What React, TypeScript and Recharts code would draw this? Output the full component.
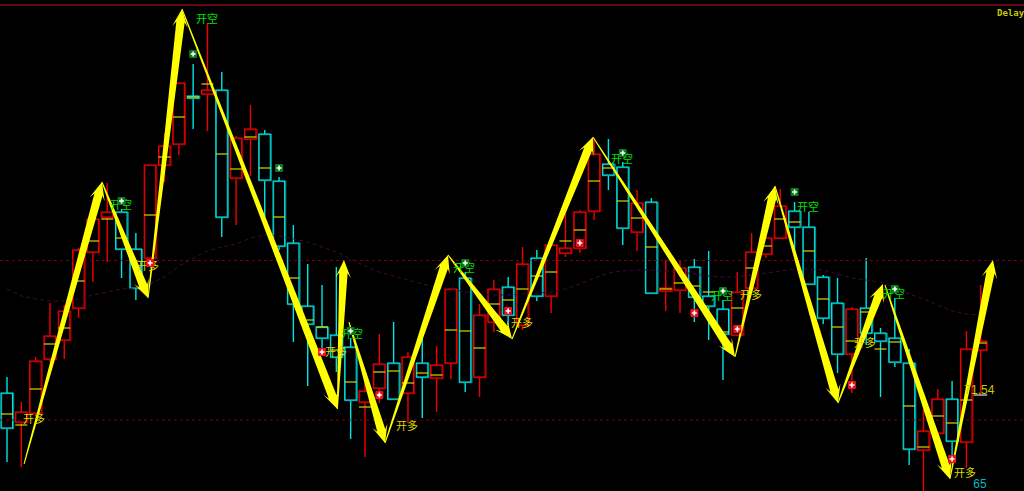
import React from 'react';
import { ComposedChart, Bar, Line, Scatter, XAxis, YAxis, ReferenceLine } from 'recharts';

const wickTop = [377,402,357,303,305,248,219,183,209,233,165,133,83,64,23,72,136,105,130,177,225,264,285,267,338,383,334,322,352,337,346,289,272,304,280,277,247,250,245,213,210,138,139,162,190,198,260,260,259,251,300,272,233,238,189,202,212,275,278,307,258,328,298,349,410,389,381,331,285];
const bodyTop = [393,412,361,336,311,250,219,212,212,249,165,146,83,96,90,90,138,129,134,181,243,306,327,335,347,391,364,363,357,363,365,289,278,315,289,287,264,258,245,248,212,154,164,167,203,202,288,268,267,296,309,292,252,238,206,211,227,277,303,309,308,333,338,363,431,399,399,349,341];
const midLine = [414,425,389,344,328,281,241,219,238,261,215,157,117,97,84,154,169,137,168,217,278,320,327,350,382,407,372,371,383,373,375,330,331,348,304,300,289,276,272,241,230,181,168,201,218,247,289,283,286,292,332,308,268,246,219,222,251,299,327,341,312,349,342,406,447,416,423,400,343];
const bodyBottom = [428,422,413,359,340,308,252,217,249,288,258,165,144,98,94,217,178,139,180,246,304,324,338,357,400,402,388,399,393,377,378,363,382,377,322,315,325,296,296,253,248,211,175,228,232,293,291,290,297,306,334,335,288,254,238,227,284,318,354,354,333,341,362,449,450,433,441,442,350];
const wickBottom = [462,467,416,362,359,318,282,262,278,300,260,182,155,129,131,237,225,176,227,250,342,386,352,372,439,457,403,400,423,418,412,379,392,397,332,325,330,301,313,257,253,220,190,245,251,293,311,313,322,340,380,335,290,258,239,255,284,324,373,393,345,397,367,465,491,440,458,468,395];
const upCandle = [0,1,1,1,1,1,1,1,0,0,1,1,1,0,1,0,1,1,0,0,0,0,0,0,0,1,1,0,1,0,1,1,0,1,1,0,1,0,1,1,1,1,0,0,1,0,1,1,0,0,0,1,1,1,1,0,0,0,0,1,0,0,0,0,1,1,0,1,1];
const maLine = [289,296,299,301,301,299,295,292,289,288,284,277,266,258,251,247,244,238,235,236,239,242,247,252,259,266,272,276,280,284,287,289,292,294,295,295,294,293,292,289,284,278,273,271,270,270,271,272,274,276,277,277,275,273,271,269,269,270,274,278,280,282,288,294,299,305,311,314,315];

const greenIdx = [8,13,19,24,32,43,50,55,62];
const greenLevel = [201,54,168,331,263,153,291,192,289];
const redIdx = [10,22,26,35,40,48,51,59,66];
const redLevel = [263,352,395,311,243,313,329,385,459];

const shortIdx = [13.97,7.96,24.09,31.91,42.95,49.93,55.94,61.94];
const shortLevel = [18,204,333,267,158,295,206,293];
const longIdx = [1.89,9.85,22.98,27.93,35.96,51.96,59.92,66.9];
const longLevel = [418,265,351,425,322,294,342,472];

const priceIdx = [67.9];
const priceLevel = [389];
const countIdx = [67.95];
const countLevel = [483.5];

const arrowFromIdx = [1.19,6.63,9.85,12.22,23.07,23.88,26.4,30.8,35.27,40.92,50.84,53.63,58.03,61.31,65.85];
const arrowFromLevel = [464,182,298,9,409,322,443,255,339,137,357,186,403,285,479];
const arrowToIdx = [6.63,9.85,12.22,23.07,23.53,26.4,30.8,35.27,40.92,50.84,53.63,58.03,61.17,65.85,68.85];
const arrowToLevel = [182,298,9,409,260,443,255,339,137,357,186,403,284,479,260];

const candles = wickTop.map((top, i) => ({
  idx: i,
  range: [top, wickBottom[i]],
  bodyTop: bodyTop[i],
  bodyBottom: bodyBottom[i],
  mid: midLine[i],
  up: upCandle[i] === 1,
  ma: maLine[i],
}));
const toPoints = (xs: number[], ys: number[]) => xs.map((idx, i) => ({ idx, level: ys[i] }));

const Candle = (props: any) => {
  const { x, y, width, height, payload } = props;
  const cx = x + width / 2;
  const [lo, hi] = payload.range;
  const top = Math.min(y, y + height);
  const scale = Math.abs(height) / (hi - lo || 1);
  const py = (v: number) => top + (v - lo) * scale;
  const bright = payload.up ? '#f00000' : '#00e6e6';
  const dark = payload.up ? '#9a0000' : '#008c8c';
  const by = py(payload.bodyTop);
  const bh = py(payload.bodyBottom) - by;
  return (
    <g>
      <line x1={cx} x2={cx} y1={top} y2={by} stroke={bright} strokeWidth={1.4} />
      <line x1={cx} x2={cx} y1={by + bh} y2={py(hi)} stroke={bright} strokeWidth={1.4} />
      <rect x={cx - 5.5} y={by + 0.5} width={12} height={bh} fill="#000" stroke={dark} strokeWidth={1.4} />
      <rect x={cx - 6} y={by} width={11.5} height={bh} fill="none" stroke={bright} strokeWidth={1} />
      <line x1={cx - 6} x2={cx + 6} y1={py(payload.mid)} y2={py(payload.mid)} stroke="#d8d800" strokeWidth={1.2} />
    </g>
  );
};

const Mark = ({ cx, cy, color }: any) => (
  <g>
    <rect x={cx - 4} y={cy - 4} width={8} height={8} rx={1} fill={color} />
    <path d={`M${cx - 2.5} ${cy}H${cx + 2.5}M${cx} ${cy - 2.5}V${cy + 2.5}`} stroke="#fff" strokeWidth={1.6} />
  </g>
);

const Word = ({ cx, cy, color, text, fontPx = 11, font = "'Noto Sans CJK SC'" }: any) => (
  <text x={cx} y={cy + 4.5} textAnchor="middle" fontSize={fontPx} fill={color} fontFamily={font}>
    {text}
  </text>
);

// tail starts as a hair and widens up to the head
const Arrow = ({ x1, y1, x2, y2 }: any) => {
  const len = Math.hypot(x2 - x1, y2 - y1);
  const ux = (x2 - x1) / len;
  const uy = (y2 - y1) / len;
  const at = (d: number, w: number) => `${x1 + ux * d - uy * w},${y1 + uy * d + ux * w}`;
  const pts = [at(0, 0.5), at(len - 13, 4.2), at(len - 18, 7.8), at(len, 0), at(len - 18, -7.8), at(len - 13, -4.2), at(0, -0.5)];
  return <polygon points={pts.join(' ')} fill="#ffff00" />;
};

export default function App() {
  return (
    <div style={{ position: 'absolute', left: 0, top: 0, width: 1024, height: 491, background: '#000', overflow: 'hidden' }}>
      <ComposedChart width={1024} height={491} data={candles} margin={{ top: 0, right: 0, bottom: 0, left: 0 }}>
        <XAxis dataKey="idx" type="number" domain={[-0.489, 71.02]} hide allowDataOverflow />
        <YAxis type="number" domain={[0, 491]} reversed hide allowDataOverflow />
        <ReferenceLine y={5} stroke="#80101c" strokeWidth={1.5} />
        <ReferenceLine y={260.5} stroke="#7a0000" strokeDasharray="3 3" />
        <ReferenceLine y={420} stroke="#7a0000" strokeDasharray="3 3" />
        <Line dataKey="ma" stroke="#3c0a3c" strokeDasharray="4 3" dot={false} activeDot={false} isAnimationActive={false} />
        <Bar dataKey="range" barSize={12} shape={Candle} isAnimationActive={false} />
        <Scatter data={toPoints(shortIdx, shortLevel)} dataKey="level" isAnimationActive={false} shape={(p: any) => <Word {...p} color="#00e000" text="开空" />} />
        <Scatter data={toPoints(longIdx, longLevel)} dataKey="level" isAnimationActive={false} shape={(p: any) => <Word {...p} color="#d8d800" text="开多" />} />
        <Scatter data={toPoints(greenIdx, greenLevel)} dataKey="level" isAnimationActive={false} shape={(p: any) => <Mark {...p} color="#0a7a1e" />} />
        <Scatter data={toPoints(redIdx, redLevel)} dataKey="level" isAnimationActive={false} shape={(p: any) => <Mark {...p} color="#ee0f1f" />} />
        <Scatter data={toPoints(priceIdx, priceLevel)} dataKey="level" isAnimationActive={false} shape={(p: any) => <Word {...p} color="#c8c800" text="71.54" fontPx={12} font="'Liberation Sans'" />} />
        <Scatter data={toPoints(countIdx, countLevel)} dataKey="level" isAnimationActive={false} shape={(p: any) => <Word {...p} color="#00b8c8" text="65" fontPx={12} font="'Liberation Sans'" />} />
        <ReferenceLine segment={[{ x: 67.5, y: 395 }, { x: 68.45, y: 395 }]} stroke="#b0b0b0" strokeWidth={1.5} />
        {arrowFromIdx.map((from, i) => (
          <ReferenceLine
            key={i}
            segment={[{ x: from, y: arrowFromLevel[i] }, { x: arrowToIdx[i], y: arrowToLevel[i] }]}
            shape={Arrow}
          />
        ))}
      </ComposedChart>
      <div style={{ position: 'absolute', left: 997, top: 8, font: "bold 9px 'DejaVu Sans Mono'", color: '#c8c800', whiteSpace: 'nowrap' }}>Delay</div>
    </div>
  );
}
